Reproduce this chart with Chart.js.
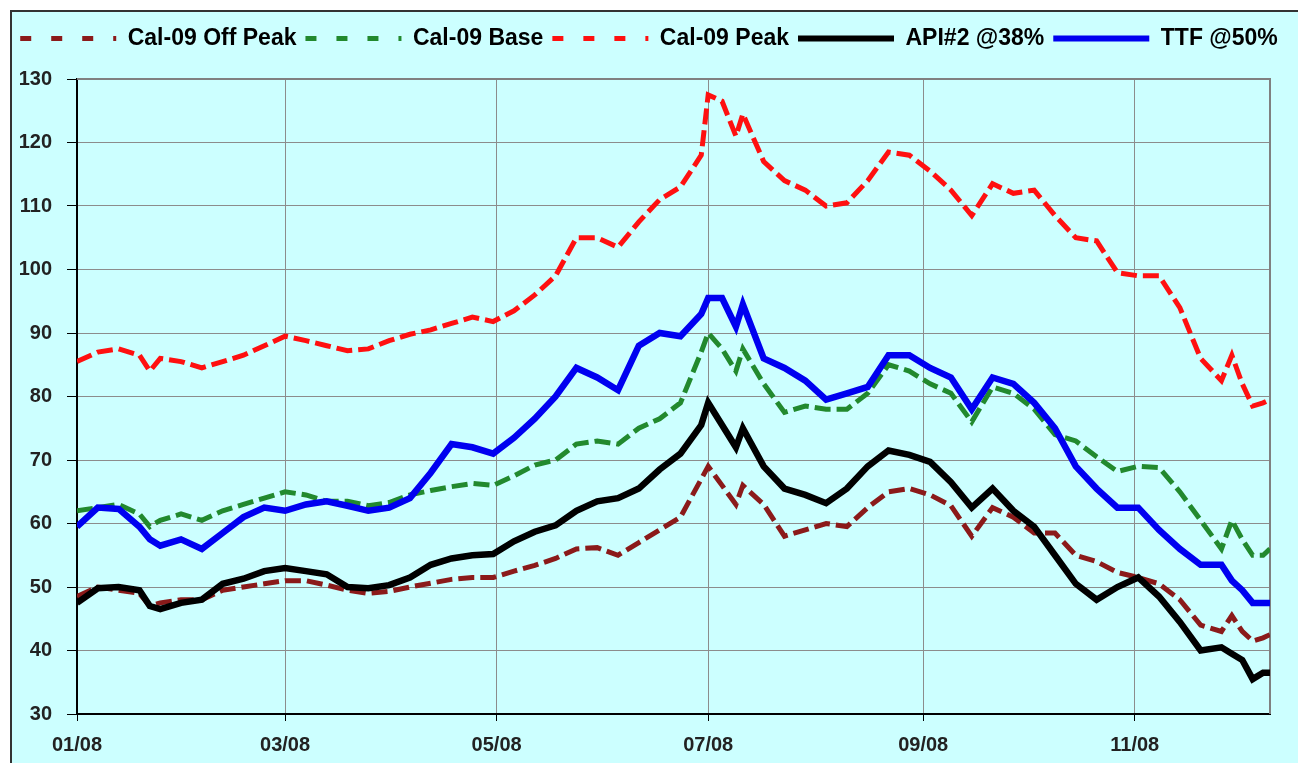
<!DOCTYPE html>
<html>
<head>
<meta charset="utf-8">
<title>Cal-09 vs fuels</title>
<script src="https://cdn.jsdelivr.net/npm/chart.js@4.4.1/dist/chart.umd.min.js"></script>
<style>
  html, body { margin: 0; padding: 0; background: #fff; }
  #wrap { width: 1298px; height: 763px; }
</style>
</head>
<body>
<div id="wrap"><canvas id="priceChart" width="1298" height="763"></canvas></div>
<script>
// day of 2008 (0 = 1 Jan)
const days = [0, 6, 12, 18, 21, 24, 30, 36, 42, 48, 54, 60, 66, 72, 78, 84, 90, 96, 102, 108, 114,
  120, 126, 132, 138, 144, 150, 156, 162, 168, 174, 180, 182, 186, 190, 192, 198, 204, 210, 216, 222, 228,
  234, 240, 246, 252, 258, 264, 270, 276, 282, 288, 294, 300, 306, 312, 318, 324, 330, 333, 336, 339, 342, 344];

const tickDays = [0, 60, 121, 182, 244, 305];
const tickLabels = ['01/08', '03/08', '05/08', '07/08', '09/08', '11/08'];

const offPeak = [48.5, 50, 49.5, 49, 47, 47.5, 48, 48, 49.5, 50, 50.5, 51, 51, 50.3, 49.5, 49, 49.3, 50, 50.6, 51.2, 51.5,
  51.5, 52.5, 53.4, 54.5, 56, 56.2, 55, 57, 59, 61, 67, 69, 66, 63, 66, 63, 58, 59, 60, 59.5, 62.5,
  65, 65.5, 64.5, 62.8, 58, 62.5, 61, 58.5, 58.5, 55, 54, 52.3, 51.5, 50.5, 48, 44, 43, 45.5, 43, 41.5, 42, 42.5];

const base = [62, 62.5, 63, 61.5, 59.5, 60.5, 61.5, 60.5, 62, 63, 64, 65, 64.5, 63.5, 63.5, 62.8, 63.3, 64.5, 65.2, 65.8, 66.3,
  66, 67.5, 69.2, 70, 72.5, 73, 72.5, 75, 76.5, 79, 87, 90, 87.5, 84, 87.5, 82, 77.5, 78.5, 78, 78, 80.5,
  85, 84, 82, 80.5, 76, 81.5, 80.5, 78, 74, 73, 70.5, 68.2, 69, 68.8, 65, 60.5, 56, 60.5, 57.5, 55, 55, 56];

const peak = [85.5, 87, 87.5, 86.5, 84, 86, 85.5, 84.5, 85.5, 86.5, 88, 89.5, 88.8, 88, 87.2, 87.5, 88.8, 89.8, 90.5, 91.5, 92.5,
  91.8, 93.5, 96, 99, 105, 105, 103.5, 107.5, 111, 113, 118, 127.5, 126.5, 121, 124.5, 117, 114, 112.5, 110, 110.5, 114,
  118.5, 118, 115.5, 112.5, 108.5, 113.5, 112, 112.5, 108.5, 105, 104.5, 99.5, 99, 99, 94, 86, 82.5, 86.5, 82, 78.5, 79, 79.5];

const api2 = [47.5, 49.8, 50, 49.5, 47, 46.5, 47.5, 48, 50.5, 51.3, 52.5, 53, 52.5, 52, 50, 49.8, 50.3, 51.5, 53.5, 54.5, 55,
  55.2, 57.2, 58.7, 59.7, 62, 63.5, 64, 65.5, 68.5, 71, 75.5, 79, 75.5, 72, 75, 69, 65.5, 64.5, 63.2, 65.5, 69,
  71.5, 70.8, 69.7, 66.5, 62.5, 65.5, 62, 59.5, 55, 50.5, 48, 50, 51.5, 48.5, 44.5, 40, 40.5, 39.5, 38.5, 35.5, 36.5, 36.5];

const ttf = [59.5, 62.5, 62.3, 59.5, 57.5, 56.5, 57.5, 56, 58.5, 61, 62.5, 62, 63, 63.5, 62.8, 62, 62.5, 64, 68, 72.5, 72,
  71, 73.5, 76.5, 80, 84.5, 83, 81, 88, 90, 89.5, 93, 95.5, 95.5, 91, 94.5, 86, 84.5, 82.5, 79.5, 80.5, 81.5,
  86.5, 86.5, 84.5, 83, 78, 83, 82, 79, 75, 69, 65.5, 62.5, 62.5, 59, 56, 53.5, 53.5, 51, 49.5, 47.5, 47.5, 47.5];

function toPoints(values) {
  return values.map((v, i) => ({ x: days[i], y: v }));
}

const plotDash = [16, 6];

function line(label, values, color, width, dashed, order) {
  return {
    label: label,
    data: toPoints(values),
    borderColor: color,
    backgroundColor: color,
    borderWidth: width,
    borderDash: dashed ? plotDash : [],
    pointRadius: 0,
    tension: 0,
    fill: false,
    order: order
  };
}

// page frame, cyan fill and the grey plot edge on top/right
const frame = {
  id: 'frame',
  beforeInit(chart) {
    const fit = chart.legend.fit;
    chart.legend.fit = function () {
      fit.call(this);
      this.height += 19;
    };
  },
  beforeDraw(chart) {
    const ctx = chart.ctx;
    ctx.save();
    ctx.fillStyle = '#ffffff';
    ctx.fillRect(0, 0, chart.width, chart.height);
    ctx.fillStyle = '#CCFFFF';
    ctx.fillRect(11, 11, chart.width, chart.height);
    ctx.strokeStyle = '#333333';
    ctx.lineWidth = 2;
    ctx.strokeRect(11, 11, chart.width + 20, chart.height + 20);
    ctx.restore();
  },
  beforeDatasetsDraw(chart) {
    const { left, top, right, bottom } = chart.chartArea;
    const ctx = chart.ctx;
    ctx.save();
    ctx.strokeStyle = '#808080';
    ctx.lineWidth = 2;
    ctx.beginPath();
    ctx.moveTo(left, top);
    ctx.lineTo(right, top);
    ctx.lineTo(right, bottom);
    ctx.stroke();
    ctx.restore();
  }
};

const ctx = document.getElementById('priceChart').getContext('2d');
new Chart(ctx, {
  type: 'line',
  data: {
    datasets: [
      line('Cal-09 Off Peak', offPeak, '#8B1A1A', 5, true, 5),
      line('Cal-09 Base', base, '#22892E', 5, true, 4),
      line('Cal-09 Peak', peak, '#FF1010', 5, true, 3),
      line('API#2 @38%', api2, '#000000', 6.5, false, 2),
      line('TTF @50%', ttf, '#0000F0', 6.5, false, 1)
    ]
  },
  options: {
    responsive: false,
    animation: false,
    layout: { padding: { top: 18, left: 0, right: 0, bottom: 0 } },
    plugins: {
      tooltip: { enabled: false },
      legend: {
        position: 'top',
        labels: {
          usePointStyle: true,
          pointStyleWidth: 96,
          padding: 9,
          color: '#000',
          font: { family: 'Liberation Sans, Arial, sans-serif', size: 23, weight: 'bold' },
          sort: (a, b) => a.datasetIndex - b.datasetIndex,
          generateLabels(chart) {
            return chart.data.datasets.map((ds, i) => ({
              text: ds.label,
              fillStyle: ds.borderColor,
              strokeStyle: ds.borderColor,
              lineWidth: ds.borderDash.length ? 5 : 6,
              lineDash: ds.borderDash.length ? [11, 20] : [],
              lineCap: 'butt',
              pointStyle: 'line',
              hidden: false,
              datasetIndex: i
            }));
          }
        }
      }
    },
    scales: {
      x: {
        type: 'linear',
        min: 0,
        max: 344,
        afterBuildTicks(scale) {
          scale.ticks = tickDays.map(v => ({ value: v }));
        },
        afterFit(scale) { scale.height = 49; },
        grid: { color: '#8c8c8c', lineWidth: 1, tickColor: '#000', tickLength: 7 },
        border: { color: '#000', width: 2 },
        ticks: {
          autoSkip: false,
          maxRotation: 0,
          padding: 12,
          color: '#222',
          font: { family: 'Liberation Sans, Arial, sans-serif', size: 20, weight: 'bold' },
          callback: (v) => tickLabels[tickDays.indexOf(v)]
        }
      },
      y: {
        min: 30,
        max: 130,
        afterFit(scale) { scale.width = 77; },
        grid: { color: '#8c8c8c', lineWidth: 1, tickColor: '#000', tickLength: 10 },
        border: { color: '#000', width: 2 },
        ticks: {
          stepSize: 10,
          padding: 15,
          color: '#222',
          font: { family: 'Liberation Sans, Arial, sans-serif', size: 20, weight: 'bold' }
        }
      },
      yRight: {
        position: 'right',
        display: true,
        afterFit(scale) { scale.width = 28; },
        grid: { display: false },
        border: { display: false },
        ticks: { display: false }
      }
    }
  },
  plugins: [frame]
});
</script>
</body>
</html>
